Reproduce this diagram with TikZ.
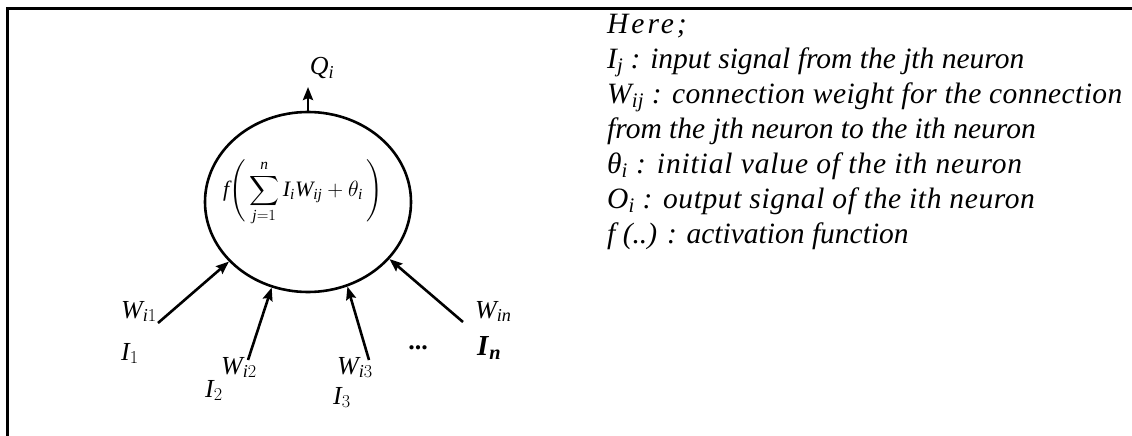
\RequirePackage{fix-cm}
\documentclass[tikz,border=0pt]{standalone}
\usepackage{amsmath}
\usepackage{fontspec}
\setmainfont{Liberation Serif}
\usetikzlibrary{shapes.geometric,arrows.meta}
\newcommand{\mi}[1]{\mathit{#1}}
\newcommand{\spaced}[2]{{\addfontfeature{LetterSpace=#1}#2}}
\begin{document}
\begin{tikzpicture}[
  x=1pt, y=-1pt,
  every node/.style={inner sep=0pt, font=\fontsize{26}{28}\selectfont},
  neuron/.style={draw, ellipse, line width=2.6pt, minimum width=206pt, minimum height=180pt},
  signal/.style={draw, line width=2.6pt, -{Stealth[length=13pt,width=10pt,inset=2pt]}},
  lbl/.style={anchor=base west},
  frameline/.style={line width=3pt}
]
  \useasboundingbox (0,0) rectangle (1132,436);
  \draw[frameline] (7,436) -- (7,9) -- (1132,9);

  % the neuron
  \node[neuron] (cell) at (308,202) {};
  \node[font=\fontsize{22}{24}\selectfont] (act) at (303,192)
    {$\displaystyle \mi{f}\Biggl(\,\sum_{\mi{j}=1}^{\mi{n}}\mi{I}_{\mi{i}}\mi{W}_{\mi{ij}}+\theta_{\mi{i}}\,\Biggr)$};

  % output
  \coordinate (out) at (308,87);
  \draw[signal] (cell.north) -- (out);
  \node (qi) at (322,68) {$\mi{Q}_{\mi{i}}$};

  % inputs
  \coordinate (in1) at (158,323);
  \coordinate (in2) at (248,360);
  \coordinate (in3) at (369,360);
  \coordinate (inn) at (463,322);
  \draw[signal] (in1) -- (cell.217);
  \draw[signal] (in2) -- (cell.247);
  \draw[signal] (in3) -- (cell.295);
  \draw[signal] (inn) -- (cell.325);

  \node[lbl] (w1) at (121,318) {$\mi{W}_{\mi{i}1}$};
  \node[lbl] (i1) at (121,360) {$\mi{I}_1$};
  \node[lbl] (w2) at (221,374) {$\mi{W}_{\mi{i}2}$};
  \node[lbl] (i2) at (205,397) {$\mi{I}_2$};
  \node[lbl] (w3) at (337,374) {$\mi{W}_{\mi{i}3}$};
  \node[lbl] (i3) at (333,404) {$\mi{I}_3$};
  \node (dots) at (418,348) {\textbf{...}};
  \node[lbl] (wn) at (475,318) {$\mi{W}_{\mi{in}}$};
  \node[lbl, font=\fontsize{29}{30}\selectfont] (in) at (477,355) {\textbf{\textit{I}}\textsubscript{\textbf{\textit{n}}}};

  % legend
  \node[anchor=north west, align=left, font=\fontsize{29.5}{35}\selectfont\itshape] (legend) at (607,14)
    {\spaced{10}{Here;}\\
     I\textsubscript{j} : input signal from the jth neuron\\
     \spaced{1.4}{W\textsubscript{ij} : connection weight for the connection}\\
     from the jth neuron to the ith neuron\\
     \spaced{2.9}{θ\textsubscript{i} : initial value of the ith neuron}\\
     \spaced{2}{O\textsubscript{i} : output signal of the ith neuron}\\
     f (..) : activation function};
\end{tikzpicture}
\end{document}
